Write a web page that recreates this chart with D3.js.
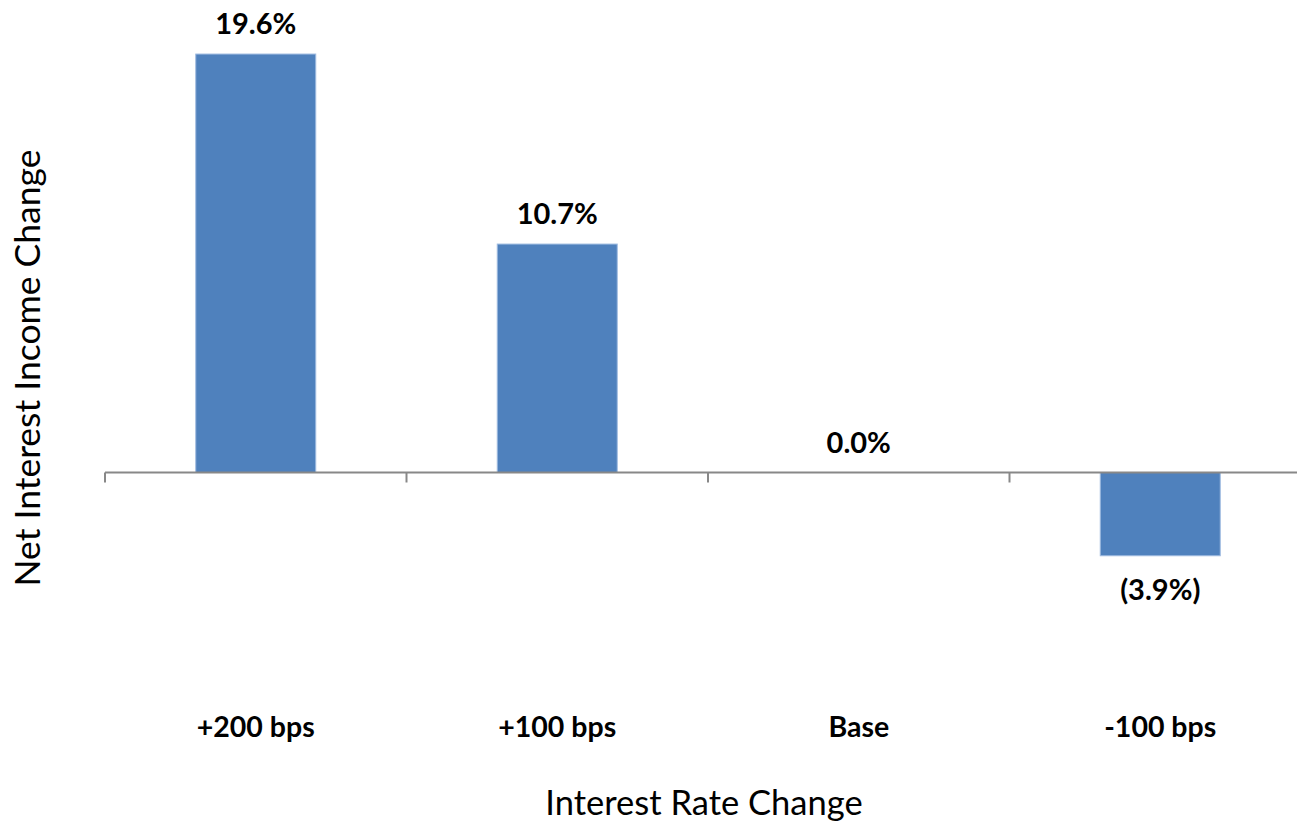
<!DOCTYPE html>
<html>
  <head>
    <meta charset="UTF-8" />
    <title>Net Interest Income Change</title>
    <script src="https://d3js.org/d3.v7.min.js"></script>
    <style>
      * {
        margin: 0;
        padding: 0;
        box-sizing: border-box;
      }
      body {
        background-color: #ffffff;
      }
      svg {
        display: block;
      }
      text {
        font-family: Lato, "Open Sans", sans-serif;
        fill: #000000;
      }
      .bar {
        fill: #4f81bd;
        stroke: #9fbbe0;
        stroke-width: 1;
      }
      .value-label {
        font-weight: bold;
        font-size: 29px;
        text-anchor: middle;
      }
      .cat-label {
        font-weight: bold;
        font-size: 28.5px;
        text-anchor: middle;
      }
      .axis-title {
        font-size: 34.5px;
        text-anchor: middle;
      }
      .y-title {
        font-size: 35.5px;
      }
    </style>
  </head>
  <body>
    <svg id="chart" width="1297" height="828"></svg>
  </body>
  <script>
    // chart data
    const categories = ["+200 bps", "+100 bps", "Base", "-100 bps"];
    const values = [19.6, 10.7, 0.0, -3.9];
    const valueLabels = ["19.6%", "10.7%", "0.0%", "(3.9%)"];

    const width = 1297;
    const height = 828;
    const svg = d3.select("#chart");

    const x = d3.scaleBand()
      .domain(categories)
      .range([105, 1311])
      .paddingInner(0.602)
      .paddingOuter(0.301);

    const y = d3.scaleLinear()
      .domain([-5, 20])
      .range([579.25, 45.5]);

    const zeroY = y(0);

    // bars
    svg.selectAll(".bar")
      .data(values)
      .join("rect")
      .attr("class", "bar")
      .attr("x", (d, i) => x(categories[i]))
      .attr("width", x.bandwidth())
      .attr("y", d => d >= 0 ? y(d) : zeroY)
      .attr("height", d => Math.abs(y(d) - zeroY))
      .style("display", d => d === 0 ? "none" : null);

    // category axis (ticks between categories)
    const step = x.step();
    const start = x.range()[0];
    const axis = svg.append("g").attr("class", "x-axis");
    axis.append("line")
      .attr("x1", start)
      .attr("x2", width)
      .attr("y1", zeroY)
      .attr("y2", zeroY)
      .attr("stroke", "#888888")
      .attr("stroke-width", 2);
    axis.selectAll(".tick")
      .data(d3.range(categories.length + 1))
      .join("line")
      .attr("class", "tick")
      .attr("x1", i => start + i * step)
      .attr("x2", i => start + i * step)
      .attr("y1", zeroY)
      .attr("y2", zeroY + 10)
      .attr("stroke", "#888888")
      .attr("stroke-width", 2);

    // value labels
    svg.selectAll(".value-label")
      .data(values)
      .join("text")
      .attr("class", "value-label")
      .attr("x", (d, i) => x(categories[i]) + x.bandwidth() / 2)
      .attr("y", d => d >= 0 ? y(d) - 20 : y(d) + 44)
      .text((d, i) => valueLabels[i]);

    // category labels
    svg.selectAll(".cat-label")
      .data(categories)
      .join("text")
      .attr("class", "cat-label")
      .attr("x", d => x(d) + x.bandwidth() / 2)
      .attr("y", 737)
      .text(d => d);

    // axis titles
    svg.append("text")
      .attr("class", "axis-title")
      .attr("x", 704)
      .attr("y", 815)
      .text("Interest Rate Change");

    svg.append("text")
      .attr("class", "axis-title y-title")
      .attr("transform", "translate(40,368) rotate(-90)")
      .text("Net Interest Income Change");
  </script>
</html>
